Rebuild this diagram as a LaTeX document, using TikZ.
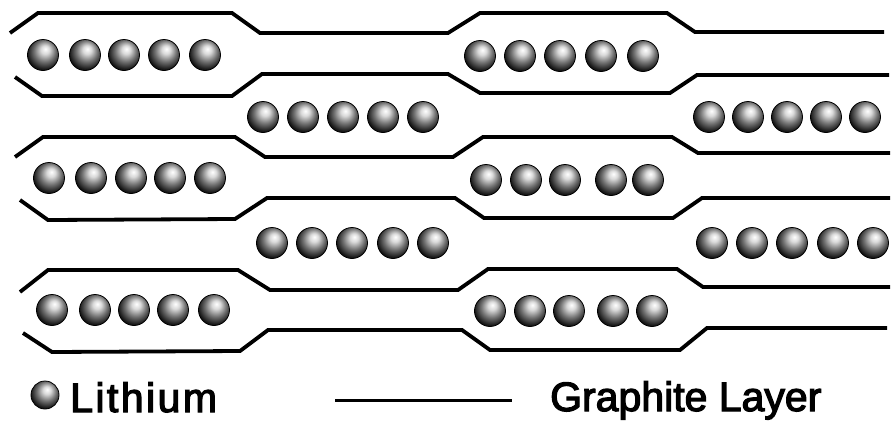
\documentclass[tikz,border=0pt]{standalone}
\usepackage{fontspec}
\setmainfont{Liberation Sans}
% shaded sphere: bright spot slightly above centre, dark rim
\pgfdeclareradialshading{liball}{\pgfpoint{4bp}{10bp}}{%
  color(0bp)=(white);
  color(7bp)=(white!85!black);
  color(17bp)=(black!55);
  color(27bp)=(black!90);
  color(34bp)=(black);
  color(50bp)=(black)}
\begin{document}
\begin{tikzpicture}[x=1pt,y=-1pt,
  layer/.style={line width=3.8pt, line join=miter},
  li/.style={circle, inner sep=0pt, minimum size=31pt, shading=liball,
             draw=black, line width=0.8pt},
  legendtext/.style={anchor=base west, inner sep=0pt,
             font=\fontsize{41}{41}\selectfont\addfontfeatures{FakeBold=3}},
]
\useasboundingbox (0,0) rectangle (892,421);

% graphite layers
\draw[layer] (10,33) -- (38,13) -- (232,13) -- (260,33) -- (448,33)
  -- (480,13) -- (667,13) -- (695,32) -- (884,32);
\draw[layer] (15,77) -- (42,96) -- (232,96) -- (262,74) -- (448,74)
  -- (480,93) -- (670,93) -- (697,75) -- (889,75);
\draw[layer] (15,157) -- (43,137) -- (235,137) -- (265,157) -- (453,157)
  -- (483,137) -- (672,137) -- (698,153) -- (890,153);
\draw[layer] (20,200) -- (48,220) -- (235,219) -- (267,198) -- (455,198)
  -- (484,218) -- (673,218) -- (702,198) -- (890,198);
\draw[layer] (20,292) -- (48,270) -- (238,270) -- (270,290) -- (458,290)
  -- (488,269) -- (677,269) -- (703,287) -- (890,287);
\draw[layer] (23,333) -- (52,352) -- (240,351) -- (268,330) -- (462,330)
  -- (490,350) -- (680,350) -- (707,328) -- (887,328);

% lithium rows
\foreach \x [count=\i] in {43,85,124,164,205}
  \node[li] (a\i) at (\x,55) {};
\foreach \x [count=\i] in {480,520,560,601,643}
  \node[li] (b\i) at (\x,56) {};
\foreach \x [count=\i] in {263,303,343,383,423}
  \node[li] (c\i) at (\x,117) {};
\foreach \x [count=\i] in {709,748,787,826,865}
  \node[li] (d\i) at (\x,117) {};
\foreach \x [count=\i] in {49,91,131,170,210}
  \node[li] (e\i) at (\x,178) {};
\foreach \x [count=\i] in {486,526,565,611,648}
  \node[li] (f\i) at (\x,180) {};
\foreach \x [count=\i] in {272,312,352,393,433}
  \node[li] (g\i) at (\x,243) {};
\foreach \x [count=\i] in {712,752,792,833,873}
  \node[li] (h\i) at (\x,243) {};
\foreach \x [count=\i] in {52,95,134,173,214}
  \node[li] (k\i) at (\x,310) {};
\foreach \x [count=\i] in {490,530,569,613,652}
  \node[li] (m\i) at (\x,311) {};

% legend
\node[li, minimum size=28pt] (legball) at (45,395) {};
\node[legendtext] (leglithium) at (70,412)
  {\addfontfeatures{LetterSpace=6}Lithium};
\coordinate (legL) at (335,400);
\coordinate (legR) at (512,400);
\draw[line width=3pt] (legL) -- (legR);
\node[legendtext] (leggraphite) at (550,411) {Graphite Layer};
\end{tikzpicture}
\end{document}
